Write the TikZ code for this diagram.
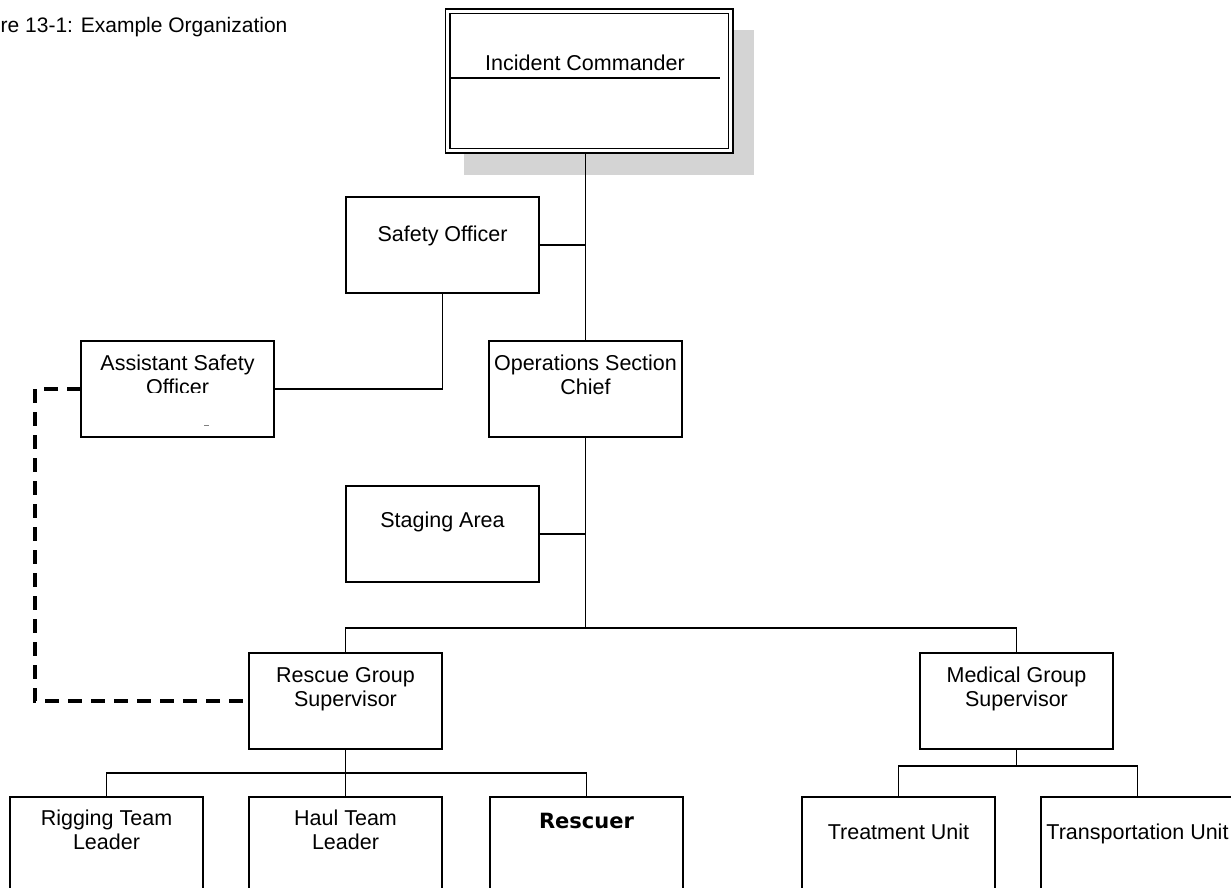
\documentclass[tikz,border=0pt]{standalone}
\usepackage{fontspec}
\setmainfont{Liberation Sans}
\newfontfamily\boldfam{DejaVu Sans}
\definecolor{shadowgray}{RGB}{212,212,212}
\begin{document}
\begin{tikzpicture}[x=1pt,y=-1pt,
  box/.style={draw=black, line width=1.8pt, fill=white, minimum width=193pt, minimum height=96pt, anchor=north west, inner sep=0pt, outer sep=0pt},
  txt/.style={anchor=base, inner sep=0pt, font=\fontsize{21.5}{24}\selectfont},
  conn/.style={draw=black, line width=1.8pt},
  dashline/.style={draw=black, line width=3.2pt, dash pattern=on 14pt off 9pt}]
\useasboundingbox (0,0) rectangle (1231,888);
% title
\node[txt, anchor=base west, font=\fontsize{21}{24}\selectfont] (title) at (0.5,33) {re 13-1: Example Organization};
% Incident commander with shadow
\fill[shadowgray] (464,30) rectangle (754,175);
\node[draw=black, line width=1.9pt, double=white, double distance=2.2pt, fill=white, minimum width=283pt, minimum height=139pt, anchor=north west, inner sep=0pt, outer sep=3pt] (ic) at (444.5,8.5) {};
\node[txt] (ict) at (585,71) {Incident Commander};
\draw[conn] (450,78) -- (720,78);
% boxes
\node[box] (so) at (346,197) {};
\node[txt] (sot) at ([yshift=-44pt]so.north) {Safety Officer};
\node[box] (ops) at (489,341) {};
\node[txt] (opst1) at ([yshift=-29pt]ops.north) {Operations Section};
\node[txt] (opst2) at ([yshift=-53pt]ops.north) {Chief};
\node[box] (aso) at (81,341) {};
\node[txt] (asot1) at ([yshift=-29pt]aso.north) {Assistant Safety};
\begin{scope}
\clip (81,341) rectangle (274,392);
\node[txt] (asot2) at ([yshift=-53pt]aso.north) {Officer};
\end{scope}
\draw[gray, line width=1pt] (204,425) -- (209,425);
\node[box] (sa) at (346,486) {};
\node[txt] (sat) at ([yshift=-41pt]sa.north) {Staging Area};
\node[box] (rgs) at (249,653) {};
\node[txt] (rgst1) at ([yshift=-29pt]rgs.north) {Rescue Group};
\node[txt] (rgst2) at ([yshift=-53pt]rgs.north) {Supervisor};
\node[box] (mgs) at (920,653) {};
\node[txt] (mgst1) at ([yshift=-29pt]mgs.north) {Medical Group};
\node[txt] (mgst2) at ([yshift=-53pt]mgs.north) {Supervisor};
\node[box] (rig) at (10,797) {};
\node[txt] (rigt1) at ([yshift=-28pt]rig.north) {Rigging Team};
\node[txt] (rigt2) at ([yshift=-52pt]rig.north) {Leader};
\node[box] (haul) at (249,797) {};
\node[txt] (hault1) at ([yshift=-28pt]haul.north) {Haul Team};
\node[txt] (hault2) at ([yshift=-52pt]haul.north) {Leader};
\node[box] (res) at (490,797) {};
\node[txt, font=\boldfam\bfseries\fontsize{21}{24}\selectfont] (rest) at ([yshift=-31pt]res.north) {Rescuer};
\node[box] (trt) at (802,797) {};
\node[txt] (trtt) at ([yshift=-42pt]trt.north) {Treatment Unit};
\node[box] (trn) at (1041,797) {};
\node[txt] (trnt) at ([yshift=-42pt]trn.north) {Transportation Unit};
% connectors
\draw[conn] (ops.north |- ic.south) -- (ops.north);
\draw[conn] (so.east) -- (so.east -| ops.north);
\draw[conn] (so.south) |- (aso.east);
\draw[dashline] (aso.west) -- ++(-46,0) |- (rgs.west);
\draw[conn] (ops.south) -- ++(0,192);
\draw[conn] (sa.east) -- (sa.east -| ops.south);
\draw[conn] (rgs.north) -- ++(0,-25) -| (mgs.north);
\draw[conn] (rgs.south) -- (haul.north);
\draw[conn] (rig.north) -- ++(0,-24) -| (res.north);
\draw[conn] (mgs.south) -- ++(0,18);
\draw[conn] (trt.north) -- ++(0,-31) -| (trn.north);
\end{tikzpicture}
\end{document}
